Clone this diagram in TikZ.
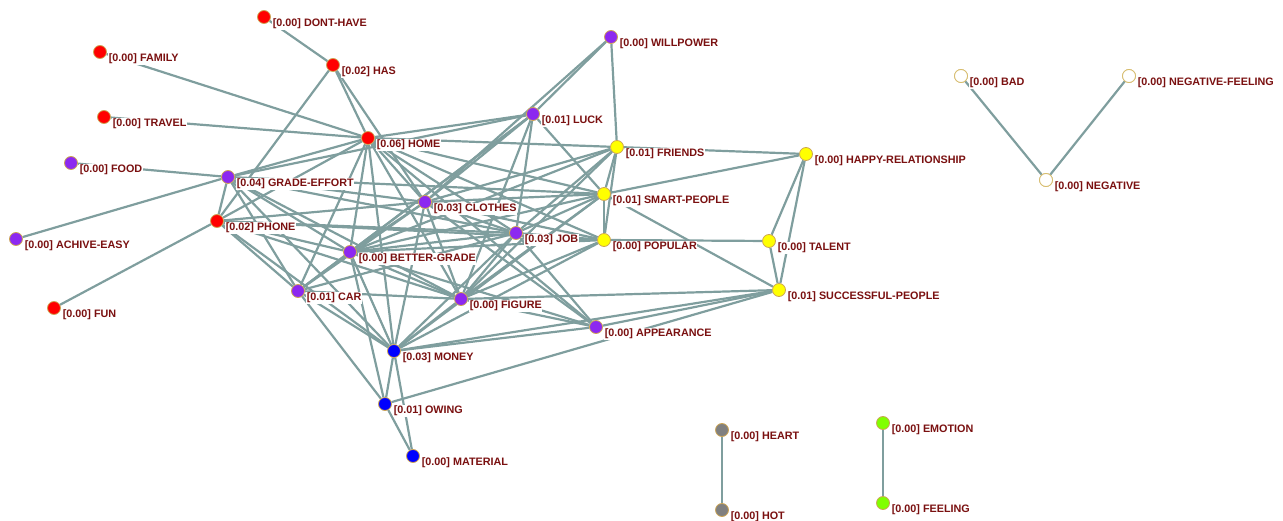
\documentclass[tikz,border=0pt]{standalone}
\usepackage{fontspec}
\setmainfont{Liberation Sans}
\usetikzlibrary{backgrounds}
\definecolor{edgec}{RGB}{127,158,158}
\definecolor{lblc}{RGB}{122,16,16}
\definecolor{vred}{RGB}{255,0,0}
\definecolor{vpur}{RGB}{140,40,240}
\definecolor{vblue}{RGB}{0,0,255}
\definecolor{vyel}{RGB}{255,255,0}
\definecolor{vgray}{RGB}{128,128,128}
\definecolor{vgreen}{RGB}{128,255,0}
\definecolor{vrim}{RGB}{205,165,85}
\definecolor{vrimw}{RGB}{215,190,110}
\tikzset{
 vtx/.style={circle, draw=vrim, line width=0.8pt, minimum size=13pt, inner sep=0pt},
 lbl/.style={anchor=west, text=lblc, font=\bfseries\fontsize{10.8}{12}\selectfont, fill=white, inner sep=0.6pt},
 lnk/.style={draw=edgec, line width=2.2pt}
}
\newcommand\Vx[5]{%
 \node[vtx, fill=#4] (#1) at (#2,#3) {};
 \node[lbl] (#1-l) at (#2+8,#3+7) {#5};
}
\begin{document}
\begin{tikzpicture}[x=1pt,y=-1pt]
\useasboundingbox (0,0) rectangle (1283,521);
\Vx{dont}{264}{17}{vred}{[0.00] DONT-HAVE}
\Vx{family}{100}{52}{vred}{[0.00] FAMILY}
\Vx{has}{333}{65}{vred}{[0.02] HAS}
\Vx{travel}{104}{117}{vred}{[0.00] TRAVEL}
\Vx{home}{368}{138}{vred}{[0.06] HOME}
\Vx{luck}{533}{114}{vpur}{[0.01] LUCK}
\Vx{will}{611}{37}{vpur}{[0.00] WILLPOWER}
\Vx{food}{71}{163}{vpur}{[0.00] FOOD}
\Vx{grade}{228}{177}{vpur}{[0.04] GRADE-EFFORT}
\Vx{phone}{217}{221}{vred}{[0.02] PHONE}
\Vx{achive}{16}{239}{vpur}{[0.00] ACHIVE-EASY}
\Vx{fun}{54}{308}{vred}{[0.00] FUN}
\Vx{clothes}{425}{202}{vpur}{[0.03] CLOTHES}
\Vx{job}{516}{233}{vpur}{[0.03] JOB}
\Vx{better}{350}{252}{vpur}{[0.00] BETTER-GRADE}
\Vx{car}{298}{291}{vpur}{[0.01] CAR}
\Vx{figure}{461}{299}{vpur}{[0.00] FIGURE}
\Vx{appear}{596}{327}{vpur}{[0.00] APPEARANCE}
\Vx{money}{394}{351}{vblue}{[0.03] MONEY}
\Vx{owing}{385}{404}{vblue}{[0.01] OWING}
\Vx{material}{413}{456}{vblue}{[0.00] MATERIAL}
\Vx{friends}{617}{147}{vyel}{[0.01] FRIENDS}
\Vx{smart}{604}{194}{vyel}{[0.01] SMART-PEOPLE}
\Vx{popular}{604}{240}{vyel}{[0.00] POPULAR}
\Vx{happy}{806}{154}{vyel}{[0.00] HAPPY-RELATIONSHIP}
\Vx{talent}{769}{241}{vyel}{[0.00] TALENT}
\Vx{success}{779}{290}{vyel}{[0.01] SUCCESSFUL-PEOPLE}
\Vx{bad}{961}{76}{white}{[0.00] BAD}
\Vx{negf}{1129}{76}{white}{[0.00] NEGATIVE-FEELING}
\Vx{neg}{1046}{180}{white}{[0.00] NEGATIVE}
\Vx{heart}{722}{430}{vgray}{[0.00] HEART}
\Vx{hot}{722}{510}{vgray}{[0.00] HOT}
\Vx{emotion}{883}{423}{vgreen}{[0.00] EMOTION}
\Vx{feeling}{883}{503}{vgreen}{[0.00] FEELING}
\foreach \n in {bad,negf,neg} \node[vtx, draw=vrimw, fill=white] at (\n) {};
\begin{pgfonlayer}{background}
\foreach \a/\b in {dont/has, has/home, has/clothes, has/phone, family/home, travel/home,
 food/grade, achive/grade, fun/phone,
 home/grade, home/phone, home/luck, home/friends, home/clothes, home/job, home/better,
 home/car, home/figure, home/money, home/smart, home/popular, home/appear,
 grade/phone, grade/luck, grade/clothes, grade/job, grade/better, grade/car, grade/figure,
 grade/smart, grade/money,
 phone/clothes, phone/job, phone/better, phone/car, phone/money, phone/figure, phone/popular,
 clothes/luck, clothes/will, clothes/job, clothes/better, clothes/car, clothes/figure,
 clothes/money, clothes/friends, clothes/smart, clothes/popular, clothes/appear,
 luck/will, luck/better, luck/job, luck/figure, luck/smart, luck/car,
 will/friends,
 job/better, job/car, job/figure, job/money, job/friends, job/smart, job/popular, job/appear,
 better/car, better/figure, better/money, better/friends, better/smart, better/popular,
 better/appear, better/owing,
 car/figure, car/money, car/owing,
 figure/money, figure/smart, figure/popular, figure/appear, figure/friends, figure/success,
 money/appear, money/success, money/popular, money/smart, money/owing, money/material,
 owing/material, owing/success, appear/success,
 friends/smart, friends/popular, friends/happy, smart/popular, smart/happy, smart/success,
 popular/talent, happy/talent, happy/success, talent/success,
 bad/neg, negf/neg, heart/hot, emotion/feeling}
 \draw[lnk] (\a) -- (\b);
\end{pgfonlayer}
\end{tikzpicture}
\end{document}
